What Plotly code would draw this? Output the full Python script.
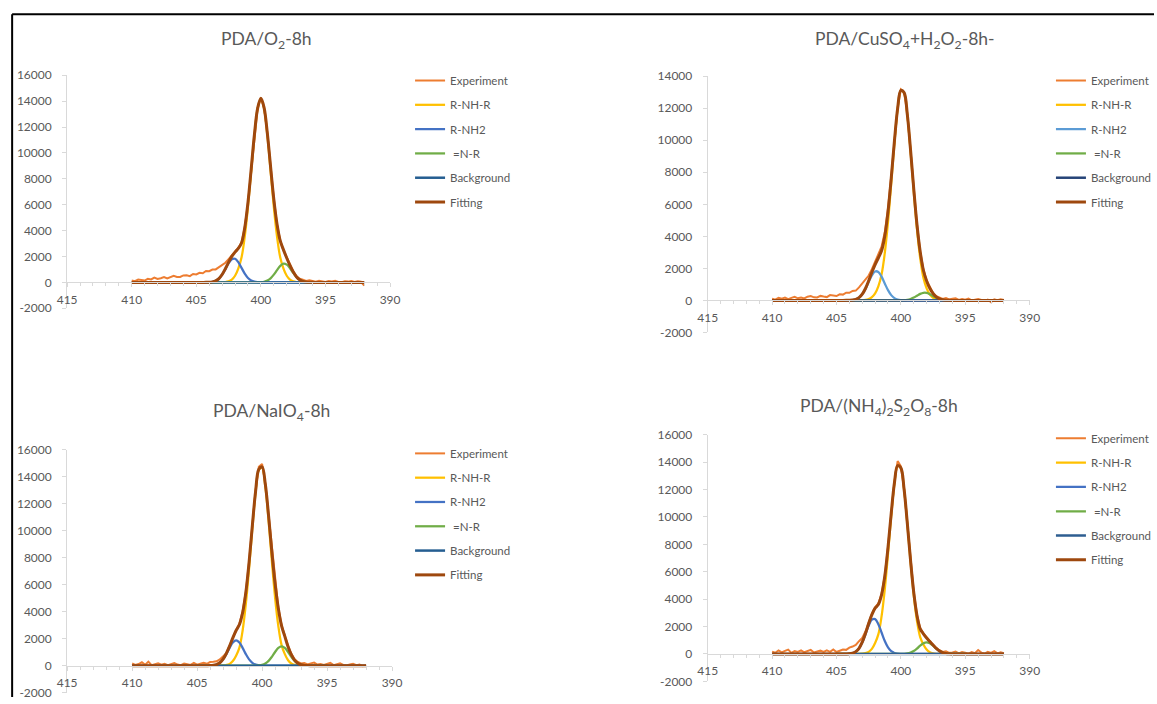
import numpy as np
import plotly.graph_objects as go

# ---------------------------------------------------------------------------
# N 1s spectra: binding energy grids (eV)
# ---------------------------------------------------------------------------
E_EXP = np.round(np.arange(410.0, 391.99, -0.25), 2)   # measured points 410 -> 392
E_FIT = np.round(np.arange(405.0, 394.99, -0.25), 2)   # component window 405 -> 395
E_BG = [410.0, 392.0]

X_TICKS = [415, 410, 405, 400, 395, 390]
Y_TICKS_16K = [-2000, 0, 2000, 4000, 6000, 8000, 10000, 12000, 14000, 16000]
Y_TICKS_14K = [-2000, 0, 2000, 4000, 6000, 8000, 10000, 12000, 14000]

SERIES = ["Experiment", "R-NH-R", "R-NH2", " =N-R", "Background", "Fitting"]

# ---------------------------------------------------------------------------
# PDA/O2-8h
# ---------------------------------------------------------------------------
EXP_O2 = [
    140, 95, 220, 185, 140, 275, 230, 365, 260, 325,
    410, 305, 430, 505, 420, 425, 540, 550, 480, 650,
    610, 735, 710, 885, 860, 995, 1000, 1195, 1360, 1520,
    1800, 2100, 2380, 2660, 3080, 4250, 6150, 8800, 11400, 13480,
    14260, 13450, 11540, 8900, 6470, 4460, 3230, 2480, 1920, 1290,
    860, 470, 280, 200, 110, 170, 140, 60, 120, 90,
    30, 100, 70, 130, 40, 20, 90, 60, 110, 30,
    80, 50, -250,
]
RNHR_O2 = [0, 0, 0, 0, 0, 0, 0, 0, 7, 28, 85, 213, 511, 1065, 1920, 3540, 5840, 8620,
           11370, 13430, 14200, 13430, 11370, 8620, 5840, 3540, 1920, 1065, 511, 213,
           85, 28, 7, 0, 0, 0, 0, 0, 0, 0, 0]
RNH2_O2 = [0, 0, 0, 3, 12, 42, 122, 295, 600, 1029, 1481, 1793, 1824, 1561, 1122, 678,
           344, 147, 53, 16, 4, 0, 0, 0, 0, 0, 0, 0, 0, 0, 0, 0, 0, 0, 0, 0, 0, 0, 0, 0, 0]
NR_O2 = [0, 0, 0, 0, 0, 0, 0, 0, 0, 0, 0, 0, 0, 0, 0, 0, 0, 0, 0, 4, 16, 51, 139, 314,
         596, 953, 1279, 1445, 1372, 1095, 734, 414, 196, 78, 26, 7, 2, 0, 0, 0, 0]
BG_O2 = [0, 0]

# ---------------------------------------------------------------------------
# PDA/CuSO4+H2O2-8h
# ---------------------------------------------------------------------------
EXP_CU = [
    110, 50, 160, 100, 170, 80, 160, 220, 130, 180,
    120, 230, 270, 190, 180, 280, 240, 205, 330, 305,
    270, 380, 360, 480, 470, 590, 610, 810, 1050, 1250,
    1550, 1950, 2450, 2850, 3350, 4250, 5750, 7750, 9990, 12030,
    13180, 13020, 11650, 9390, 6990, 4770, 3060, 1920, 1240, 790,
    450, 260, 190, 90, 150, 60, 100, 130, 30, 80,
    40, 110, 0, 60, 90, 20, -40, 50, -110, 60,
    10, 70, 20,
]
RNHR_CU = [0, 0, 0, 0, 0, 0, 0, 2, 7, 26, 80, 200, 435, 870, 1610, 2950, 4885, 7290,
           9820, 11940, 13090, 12960, 11580, 9330, 6790, 4450, 2640, 1410, 750, 370,
           160, 66, 22, 5, 0, 0, 0, 0, 0, 0, 0]
RNH2_CU = [0, 0, 0, 1, 6, 21, 66, 171, 380, 715, 1146, 1561, 1806, 1777, 1486, 1057,
           638, 328, 143, 53, 17, 4, 0, 0, 0, 0, 0, 0, 0, 0, 0, 0, 0, 0, 0, 0, 0, 0, 0, 0, 0]
NR_CU = [0, 0, 0, 0, 0, 0, 0, 0, 0, 0, 0, 0, 0, 0, 0, 0, 0, 0, 0, 0, 4, 14, 38, 89,
         176, 291, 405, 473, 465, 384, 267, 156, 76, 32, 11, 3, 0, 0, 0, 0, 0]
BG_CU = [0, 0]

# ---------------------------------------------------------------------------
# PDA/NaIO4-8h
# ---------------------------------------------------------------------------
EXP_NA = [
    160, 50, 120, 250, 60, 300, 40, 130, 180, 70,
    140, 30, 110, 190, 80, 40, 150, 110, 60, 200,
    80, 150, 220, 140, 270, 290, 320, 460, 660, 920,
    1480, 2080, 2640, 3100, 4000, 5500, 7700, 10420, 12980, 14750,
    14950, 13500, 11150, 8480, 6100, 4280, 3000, 2220, 1460, 880,
    480, 280, 160, 200, 90, 170, 230, 80, 120, 60,
    150, 210, 40, 110, 170, 60, 20, 90, 140, 30,
    80, -30, 40,
]
RNHR_NA = [0, 0, 0, 0, 0, 0, 0, 3, 15, 52, 133, 340, 740, 1317, 2590, 4573, 7208,
           10168, 12832, 14504, 14667, 13276, 10745, 7785, 5047, 2930, 1524, 858, 400,
           163, 59, 19, 4, 0, 0, 0, 0, 0, 0, 0, 0]
RNH2_NA = [0, 0, 0, 2, 7, 27, 82, 213, 466, 856, 1322, 1715, 1870, 1715, 1322, 856,
           466, 213, 82, 27, 7, 2, 0, 0, 0, 0, 0, 0, 0, 0, 0, 0, 0, 0, 0, 0, 0, 0, 0, 0, 0]
NR_NA = [0, 0, 0, 0, 0, 0, 0, 0, 0, 0, 0, 0, 0, 0, 0, 0, 0, 0, 6, 20, 63, 163, 356,
         655, 1011, 1311, 1430, 1311, 1011, 655, 356, 163, 63, 20, 6, 2, 0, 0, 0, 0, 0]
BG_NA = [0, 0]

# ---------------------------------------------------------------------------
# PDA/(NH4)2S2O8-8h
# ---------------------------------------------------------------------------
EXP_APS = [
    170, 92, 264, 116, 228, 320, 82, 204, 146, 258,
    120, 202, 294, 106, 188, 240, 142, 264, 156, 328,
    140, 250, 320, 300, 460, 540, 660, 930, 1170, 1640,
    2300, 2950, 3400, 3700, 4380, 5700, 7820, 10300, 12560, 14080,
    13700, 12050, 9600, 6880, 4540, 2860, 1880, 1510, 1200, 930,
    680, 430, 270, 150, 200, 80, 110, 170, 40, 140,
    90, 20, 130, 60, 290, 100, 30, 160, 80, 210,
    40, 120, 50,
]
RNHR_APS = [0, 0, 0, 0, 0, 0, 0, 4, 18, 55, 152, 374, 803, 1427, 2742, 4723, 7285,
            10055, 12423, 13725, 13573, 12008, 9515, 6745, 4280, 2424, 1233, 693, 319,
            125, 48, 14, 3, 0, 0, 0, 0, 0, 0, 0, 0]
RNH2_APS = [0, 0, 0, 4, 17, 59, 170, 411, 838, 1435, 2066, 2501, 2544, 2177, 1565, 946,
            480, 205, 74, 22, 6, 0, 0, 0, 0, 0, 0, 0, 0, 0, 0, 0, 0, 0, 0, 0, 0, 0, 0, 0, 0]
NR_APS = [0, 0, 0, 0, 0, 0, 0, 0, 0, 0, 0, 0, 0, 0, 0, 0, 0, 0, 0, 0, 3, 12, 37, 97,
          212, 389, 601, 779, 850, 779, 601, 389, 212, 97, 37, 12, 3, 0, 0, 0, 0]
BG_APS = [0, 0]

# ---------------------------------------------------------------------------
# Layout geometry. Positions below are screen pixels; SX/SY convert them to
# css pixels of the page and PAD is the html body margin around the figure.
# ---------------------------------------------------------------------------
SX, SY = 0.983, 0.978
PAD = 8
W, H = 1164, 704
TEXT = "#595959"
AXIS = "#D9D9D9"
FONT = "Lato, 'Open Sans', sans-serif"
TICK_SIZE = 12
LEG_SIZE = 11.5


def fx(p):
    return (p / SX - PAD) / W


def fy(p):
    return 1 - (p / SY - PAD) / H


def on_grid(e_src, vals):
    e_src = np.asarray(e_src, dtype=float)
    vals = np.asarray(vals, dtype=float)
    return np.interp(E_EXP, e_src[::-1], vals[::-1], left=0.0, right=0.0)


PANELS = [
    dict(title="PDA/O<sub>2</sub>-8h", title_xy=(264.5, 39.6),
         xpx=(65, 388), ypx=(75.0, 307.9), yr=(-2000, 16000), yt=Y_TICKS_16K,
         leg_xy=(408, 65.8),
         data=(EXP_O2, RNHR_O2, RNH2_O2, NR_O2, BG_O2),
         colors=("#ED7D31", "#FFC000", "#4472C4", "#70AD47", "#255E91", "#9E480E")),
    dict(title="PDA/CuSO<sub>4</sub>+H<sub>2</sub>O<sub>2</sub>-8h-", title_xy=(903, 39.6),
         xpx=(705.7, 1027.7), ypx=(76.0, 332.0), yr=(-2000, 14000), yt=Y_TICKS_14K,
         leg_xy=(1049, 65.8),
         data=(EXP_CU, RNHR_CU, RNH2_CU, NR_CU, BG_CU),
         colors=("#ED7D31", "#FFC000", "#5B9BD5", "#70AD47", "#264478", "#9E480E")),
    dict(title="PDA/NaIO<sub>4</sub>-8h", title_xy=(269.4, 411.7),
         xpx=(65, 390), ypx=(449.3, 692.0), yr=(-2000, 16000), yt=Y_TICKS_16K,
         leg_xy=(408, 438.4),
         data=(EXP_NA, RNHR_NA, RNH2_NA, NR_NA, BG_NA),
         colors=("#ED7D31", "#FFC000", "#4472C4", "#70AD47", "#255E91", "#9E480E")),
    dict(title="PDA/(NH<sub>4</sub>)<sub>2</sub>S<sub>2</sub>O<sub>8</sub>-8h", title_xy=(877, 406.7),
         xpx=(705.7, 1027.7), ypx=(434.3, 680.7), yr=(-2000, 16000), yt=Y_TICKS_16K,
         leg_xy=(1049, 423.4),
         data=(EXP_APS, RNHR_APS, RNH2_APS, NR_APS, BG_APS),
         colors=("#ED7D31", "#FFC000", "#4472C4", "#70AD47", "#2E5E91", "#9E480E")),
]

fig = go.Figure()
layout = dict(
    width=W, height=H,
    margin=dict(l=0, r=0, t=0, b=0),
    paper_bgcolor="white", plot_bgcolor="white",
    font=dict(family=FONT, size=TICK_SIZE, color=TEXT),
    annotations=[], shapes=[],
)

for i, p in enumerate(PANELS, start=1):
    xa, ya = f"x{i}", f"y{i}"
    leg = "legend" if i == 1 else f"legend{i}"
    exp, rnhr, rnh2, nr, bg = p["data"]
    c_exp, c_rnhr, c_rnh2, c_nr, c_bg, c_fit = p["colors"]

    fitting = on_grid(E_BG, bg) + on_grid(E_FIT, rnhr) + on_grid(E_FIT, rnh2) + on_grid(E_FIT, nr)

    traces = [
        (SERIES[0], E_EXP, exp, c_exp, 2.0, "linear"),
        (SERIES[1], E_FIT, rnhr, c_rnhr, 2.25, "spline"),
        (SERIES[2], E_FIT, rnh2, c_rnh2, 2.25, "spline"),
        (SERIES[3], E_FIT, nr, c_nr, 2.25, "spline"),
        (SERIES[4], E_BG, bg, c_bg, 2.5, "linear"),
        (SERIES[5], E_EXP, fitting, c_fit, 3.0, "spline"),
    ]
    for k, (name, xs, ys, col, w, shape) in enumerate(traces):
        fig.add_trace(go.Scatter(
            x=list(xs), y=list(ys), name=name, mode="lines",
            line=dict(color=col, width=w, shape=shape),
            xaxis=xa, yaxis=ya, legend=leg, legendgroup=f"p{i}s{k}",
            hoverinfo="skip",
        ))

    x0, x1 = p["xpx"]
    ytop, ybot = p["ypx"]
    ymin, ymax = p["yr"]
    dom_y = [fy(ybot), fy(ytop)]
    zero_pos = dom_y[0] + (0 - ymin) / (ymax - ymin) * (dom_y[1] - dom_y[0])

    suffix = "" if i == 1 else str(i)
    layout[f"xaxis{suffix}"] = dict(
        domain=[fx(x0), fx(x1)], range=[415, 390], anchor="free", position=zero_pos,
        showline=True, linecolor=AXIS, linewidth=1,
        ticks="outside", ticklen=4, tickcolor=AXIS, tickwidth=1,
        tickmode="array", tickvals=X_TICKS, ticktext=[str(v) for v in X_TICKS],
        tickfont=dict(family=FONT, size=TICK_SIZE, color=TEXT), ticklabelstandoff=2,
        minor=dict(tickmode="linear", tick0=390, dtick=1, ticks="outside",
                   ticklen=3, tickcolor=AXIS, showgrid=False),
        showgrid=False, zeroline=False, fixedrange=True,
    )
    layout[f"yaxis{suffix}"] = dict(
        domain=dom_y, range=[ymin, ymax], anchor=xa,
        showline=True, linecolor=AXIS, linewidth=1,
        ticks="outside", ticklen=4, tickcolor=AXIS, tickwidth=1,
        tickmode="array", tickvals=p["yt"], ticktext=[str(v) for v in p["yt"]],
        tickfont=dict(family=FONT, size=TICK_SIZE, color=TEXT), ticklabelstandoff=8,
        showgrid=False, zeroline=False, fixedrange=True,
    )

    lx, ly = p["leg_xy"]
    layout[leg] = dict(
        x=fx(lx), y=fy(ly), xanchor="left", yanchor="top",
        xref="paper", yref="paper",
        bgcolor="rgba(0,0,0,0)", borderwidth=0,
        font=dict(family=FONT, size=LEG_SIZE, color=TEXT),
        traceorder="grouped", tracegroupgap=5.3, itemclick=False, itemdoubleclick=False,
    )

    tx, ty = p["title_xy"]
    layout["annotations"].append(dict(
        text=p["title"], x=fx(tx), y=fy(ty), xref="paper", yref="paper",
        xanchor="center", yanchor="middle", showarrow=False,
        font=dict(family=FONT, size=17.5, color=TEXT),
    ))

# frame lines along the top and left edges
layout["shapes"] = [
    dict(type="line", xref="paper", yref="paper", x0=fx(10), x1=1.0, y0=fy(14), y1=fy(14),
         line=dict(color="black", width=2)),
    dict(type="line", xref="paper", yref="paper", x0=fx(10), x1=fx(10), y0=fy(14), y1=0.0,
         line=dict(color="black", width=2)),
]

fig.update_layout(**layout)
fig.write_html("out.html", config={"displayModeBar": False})
